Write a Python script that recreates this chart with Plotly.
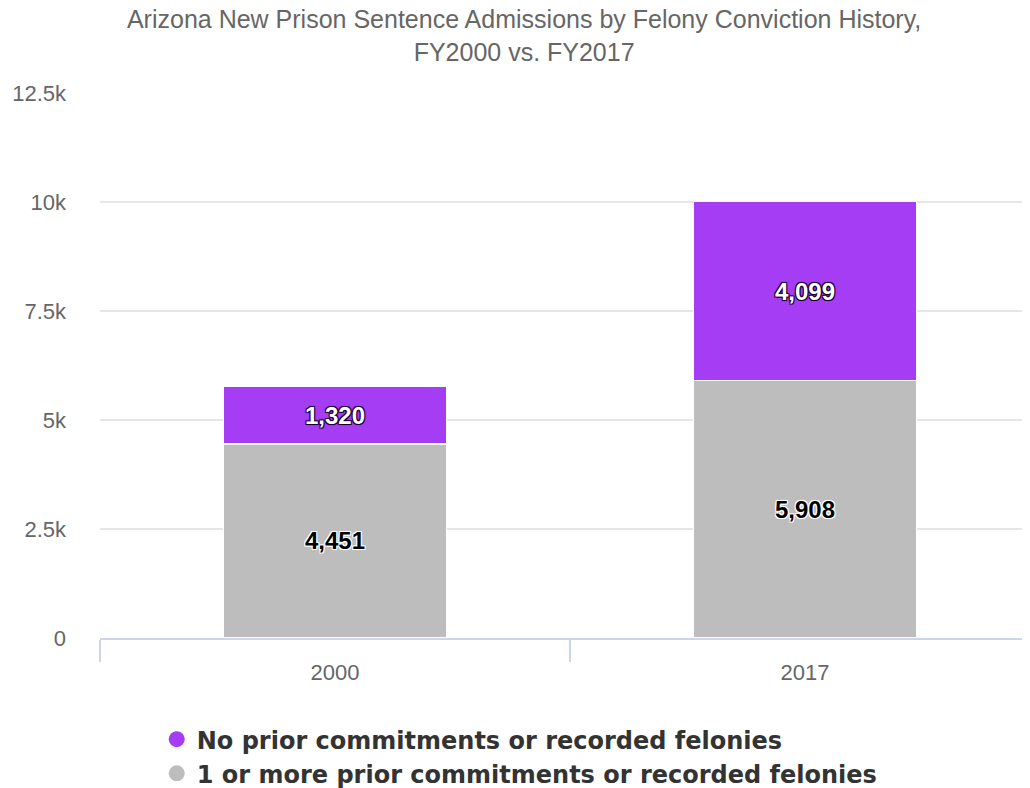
import plotly.graph_objects as go

years = ["2000", "2017"]
no_prior = [1320, 4099]
one_or_more = [4451, 5908]
series_names = ["No prior commitments or recorded felonies",
                "1 or more prior commitments or recorded felonies"]
y_tickvals = [0, 2500, 5000, 7500, 10000, 12500]
y_ticktext = ["0", "2.5k", "5k", "7.5k", "10k", "12.5k"]
title_text = "Arizona New Prison Sentence Admissions by Felony Conviction History,<br>FY2000 vs. FY2017"

PURPLE = "#A53DF5"
GRAY = "#BDBDBD"
FONT = "Liberation Sans, Arial, sans-serif"
LEGEND_FONT = "DejaVu Sans, Liberation Sans, Arial, sans-serif"

W, H = 1022, 780  # page body has an 8px margin inside the 1030x788 window

dark_outline = "-1px -1px 0 #1a0030, 1px -1px 0 #1a0030, -1px 1px 0 #1a0030, 1px 1px 0 #1a0030, 0 0 2px #1a0030"
white_outline = "-1px -1px 0 #fff, 1px -1px 0 #fff, -1px 1px 0 #fff, 1px 1px 0 #fff, 0 0 2px #fff"

fig = go.Figure()
fig.add_trace(go.Bar(
    x=years, y=one_or_more, name=series_names[1], showlegend=False,
    marker=dict(color=GRAY, line=dict(color="white", width=1.5)),
    texttemplate="%{y:,}", textposition="inside", insidetextanchor="middle",
    textangle=0, constraintext="none",
    textfont=dict(family=FONT, size=24, color="#000", weight="bold", shadow=white_outline),
))
fig.add_trace(go.Bar(
    x=years, y=no_prior, name=series_names[0], showlegend=False,
    marker=dict(color=PURPLE, line=dict(color="white", width=1.5)),
    texttemplate="%{y:,}", textposition="inside", insidetextanchor="middle",
    textangle=0, constraintext="none",
    textfont=dict(family=FONT, size=24, color="#fff", weight="bold", shadow=dark_outline),
))
# legend entries (circle markers)
fig.add_trace(go.Scatter(x=[None], y=[None], mode="markers", name=series_names[0],
                         marker=dict(color=PURPLE, size=22, symbol="circle")))
fig.add_trace(go.Scatter(x=[None], y=[None], mode="markers", name=series_names[1],
                         marker=dict(color=GRAY, size=22, symbol="circle")))

fig.update_layout(
    width=W, height=H,
    barmode="stack", bargap=0.526,
    paper_bgcolor="white", plot_bgcolor="white",
    margin=dict(l=92, r=0, t=85, b=150, autoexpand=False),
    font=dict(family=FONT, color="#666666"),
    title=dict(text=title_text, x=0.505, xanchor="center", xref="container",
               y=1 - 20 / H, yref="container", yanchor="top",
               font=dict(family=FONT, size=25, color="#666666")),
    legend=dict(orientation="v", x=0.061, xanchor="left", y=-0.145, yanchor="top",
                traceorder="normal",
                font=dict(family=LEGEND_FONT, size=24, color="#333333", weight="bold"),
                tracegroupgap=0, itemsizing="trace", bgcolor="rgba(0,0,0,0)"),
    xaxis=dict(type="category", range=[-0.5, 1.4787],
               showgrid=False, showline=True, linecolor="#CCD6EB",
               linewidth=1.5, ticks="outside", tickson="boundaries", ticklen=22,
               tickcolor="#CCD6EB", tickwidth=1.5, automargin=False,
               ticklabelstandoff=14,
               tickfont=dict(family=FONT, size=22, color="#666666")),
    yaxis=dict(range=[0, 12500], tickvals=y_tickvals, ticktext=y_ticktext,
               showgrid=True, gridcolor="#E6E6E6", gridwidth=1.5, zeroline=False,
               showline=False, ticks="", ticklabelstandoff=33, automargin=False,
               tickfont=dict(family=FONT, size=22, color="#666666")),
)

fig.write_html("out.html")
